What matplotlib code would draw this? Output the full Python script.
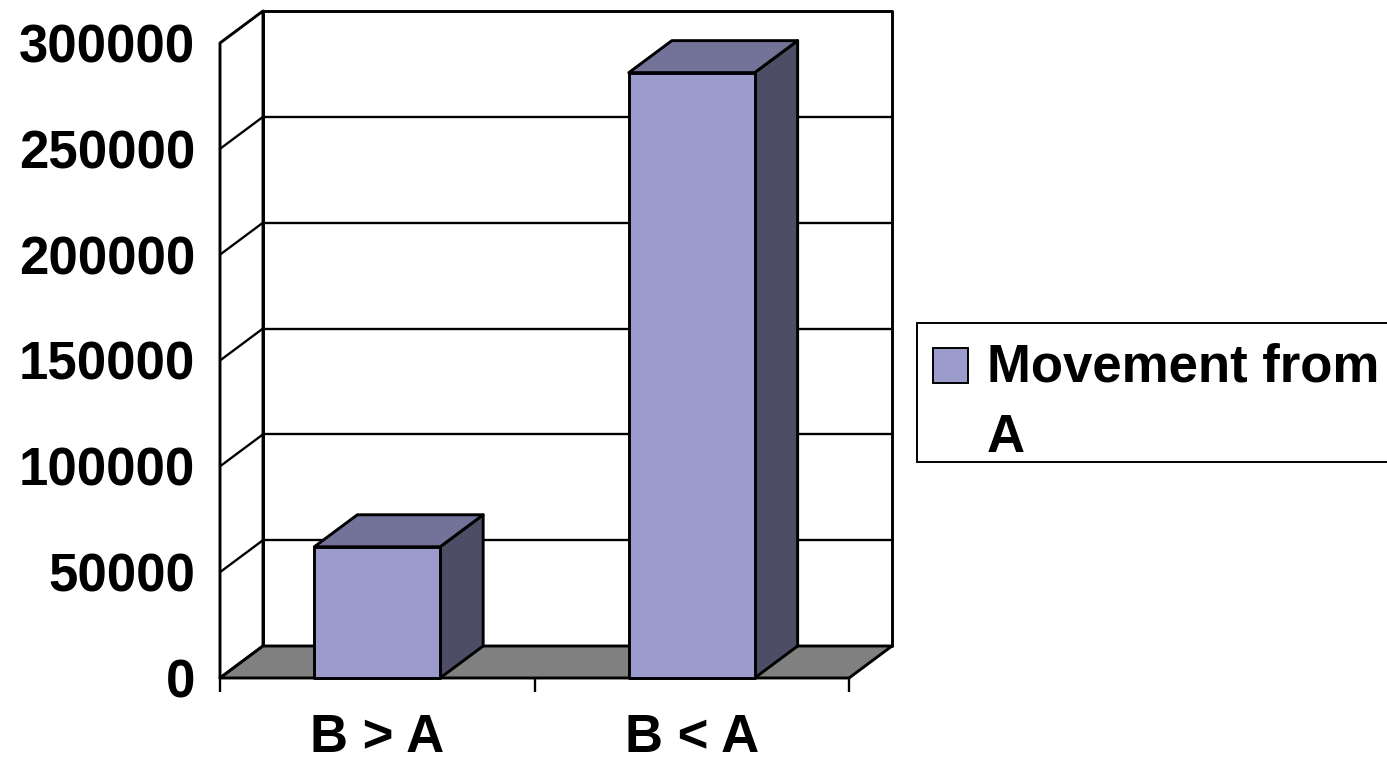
#!/usr/bin/env python3
"""Excel-style 3-D column chart of movement counts from A."""

import matplotlib

matplotlib.use("Agg")
import matplotlib.pyplot as plt
from matplotlib.patches import Polygon, Rectangle

categories = ["B > A", "B < A"]
movement_from_a = [62000, 286000]
series_label = "Movement from\nA"
y_ticks = [0, 50000, 100000, 150000, 200000, 250000, 300000]

FONT = "Liberation Sans"
FONT_SIZE = 38
FACE = "#9b9bcc"
TOP = "#737399"
SIDE = "#4d4d66"
FLOOR = "#808080"
EDGE = "black"
LW = 2.1

W, H = 1387, 759
fig = plt.figure(figsize=(W / 100, H / 100), dpi=100)

# plot area in pixels: front plane spans x 220..849, y 678..43
ax = fig.add_axes([220 / W, 81 / H, 629 / W, 635 / H])
n = len(categories)
ymax = y_ticks[-1]
ax.set_xlim(0, n)
ax.set_ylim(0, ymax)

# depth of the 3-D box, converted from pixels into data units
dx = 43 / 629 * n
dy = 32 / 635 * ymax


def poly(points, color, z):
    ax.add_patch(Polygon(points, closed=True, facecolor=color, edgecolor=EDGE,
                         linewidth=LW, joinstyle="round", clip_on=False, zorder=z))


def seg(xs, ys, z=1.5):
    ax.plot(xs, ys, color=EDGE, linewidth=LW * 0.8, clip_on=False, zorder=z,
            solid_capstyle="round")


# back wall, side wall and floor
poly([(dx, dy), (n + dx, dy), (n + dx, ymax + dy), (dx, ymax + dy)], "white", 1)
poly([(0, 0), (dx, dy), (dx, ymax + dy), (0, ymax)], "white", 1)
poly([(0, 0), (n, 0), (n + dx, dy), (dx, dy)], FLOOR, 1.2)

for v in y_ticks[1:-1]:
    seg([dx, n + dx], [v + dy, v + dy])
    seg([0, dx], [v, v + dy])

# columns: front face, top and right side
bar_w = 0.4
for i, v in enumerate(movement_from_a):
    x0 = i + 0.5 - bar_w / 2
    x1 = x0 + bar_w
    poly([(x1, 0), (x1 + dx, dy), (x1 + dx, v + dy), (x1, v)], SIDE, 3)
    poly([(x0, v), (x1, v), (x1 + dx, v + dy), (x0 + dx, v + dy)], TOP, 3)
    poly([(x0, 0), (x1, 0), (x1, v), (x0, v)], FACE, 3)

for s in ax.spines.values():
    s.set_visible(False)

ax.set_yticks(y_ticks)
ax.set_yticklabels([str(t) for t in y_ticks])
ax.tick_params(axis="y", length=0, pad=18)

ax.set_xticks([i + 0.5 for i in range(n)])
ax.set_xticklabels(categories)
ax.tick_params(axis="x", which="major", length=0, pad=25.5)
ax.set_xticks(range(n + 1), minor=True)
ax.tick_params(axis="x", which="minor", length=10, width=LW * 0.8, color=EDGE)

for lab in ax.get_xticklabels() + ax.get_yticklabels():
    lab.set_fontfamily(FONT)
    lab.set_fontweight("bold")
    lab.set_fontsize(FONT_SIZE)

# legend box, cut off by the right edge of the figure
fig.add_artist(Rectangle((917 / W, (H - 462) / H), 490 / W, 139 / H,
                         transform=fig.transFigure, facecolor="white",
                         edgecolor=EDGE, linewidth=1.4))
fig.add_artist(Rectangle((933 / W, (H - 383) / H), 35 / W, 35 / H,
                         transform=fig.transFigure, facecolor=FACE,
                         edgecolor=EDGE, linewidth=1.4))
fig.text(987 / W, (H - 343) / H, series_label, fontsize=FONT_SIZE,
         fontfamily=FONT, fontweight="bold", va="top", ha="left",
         linespacing=1.51)

fig.savefig("out.png", dpi=100)
